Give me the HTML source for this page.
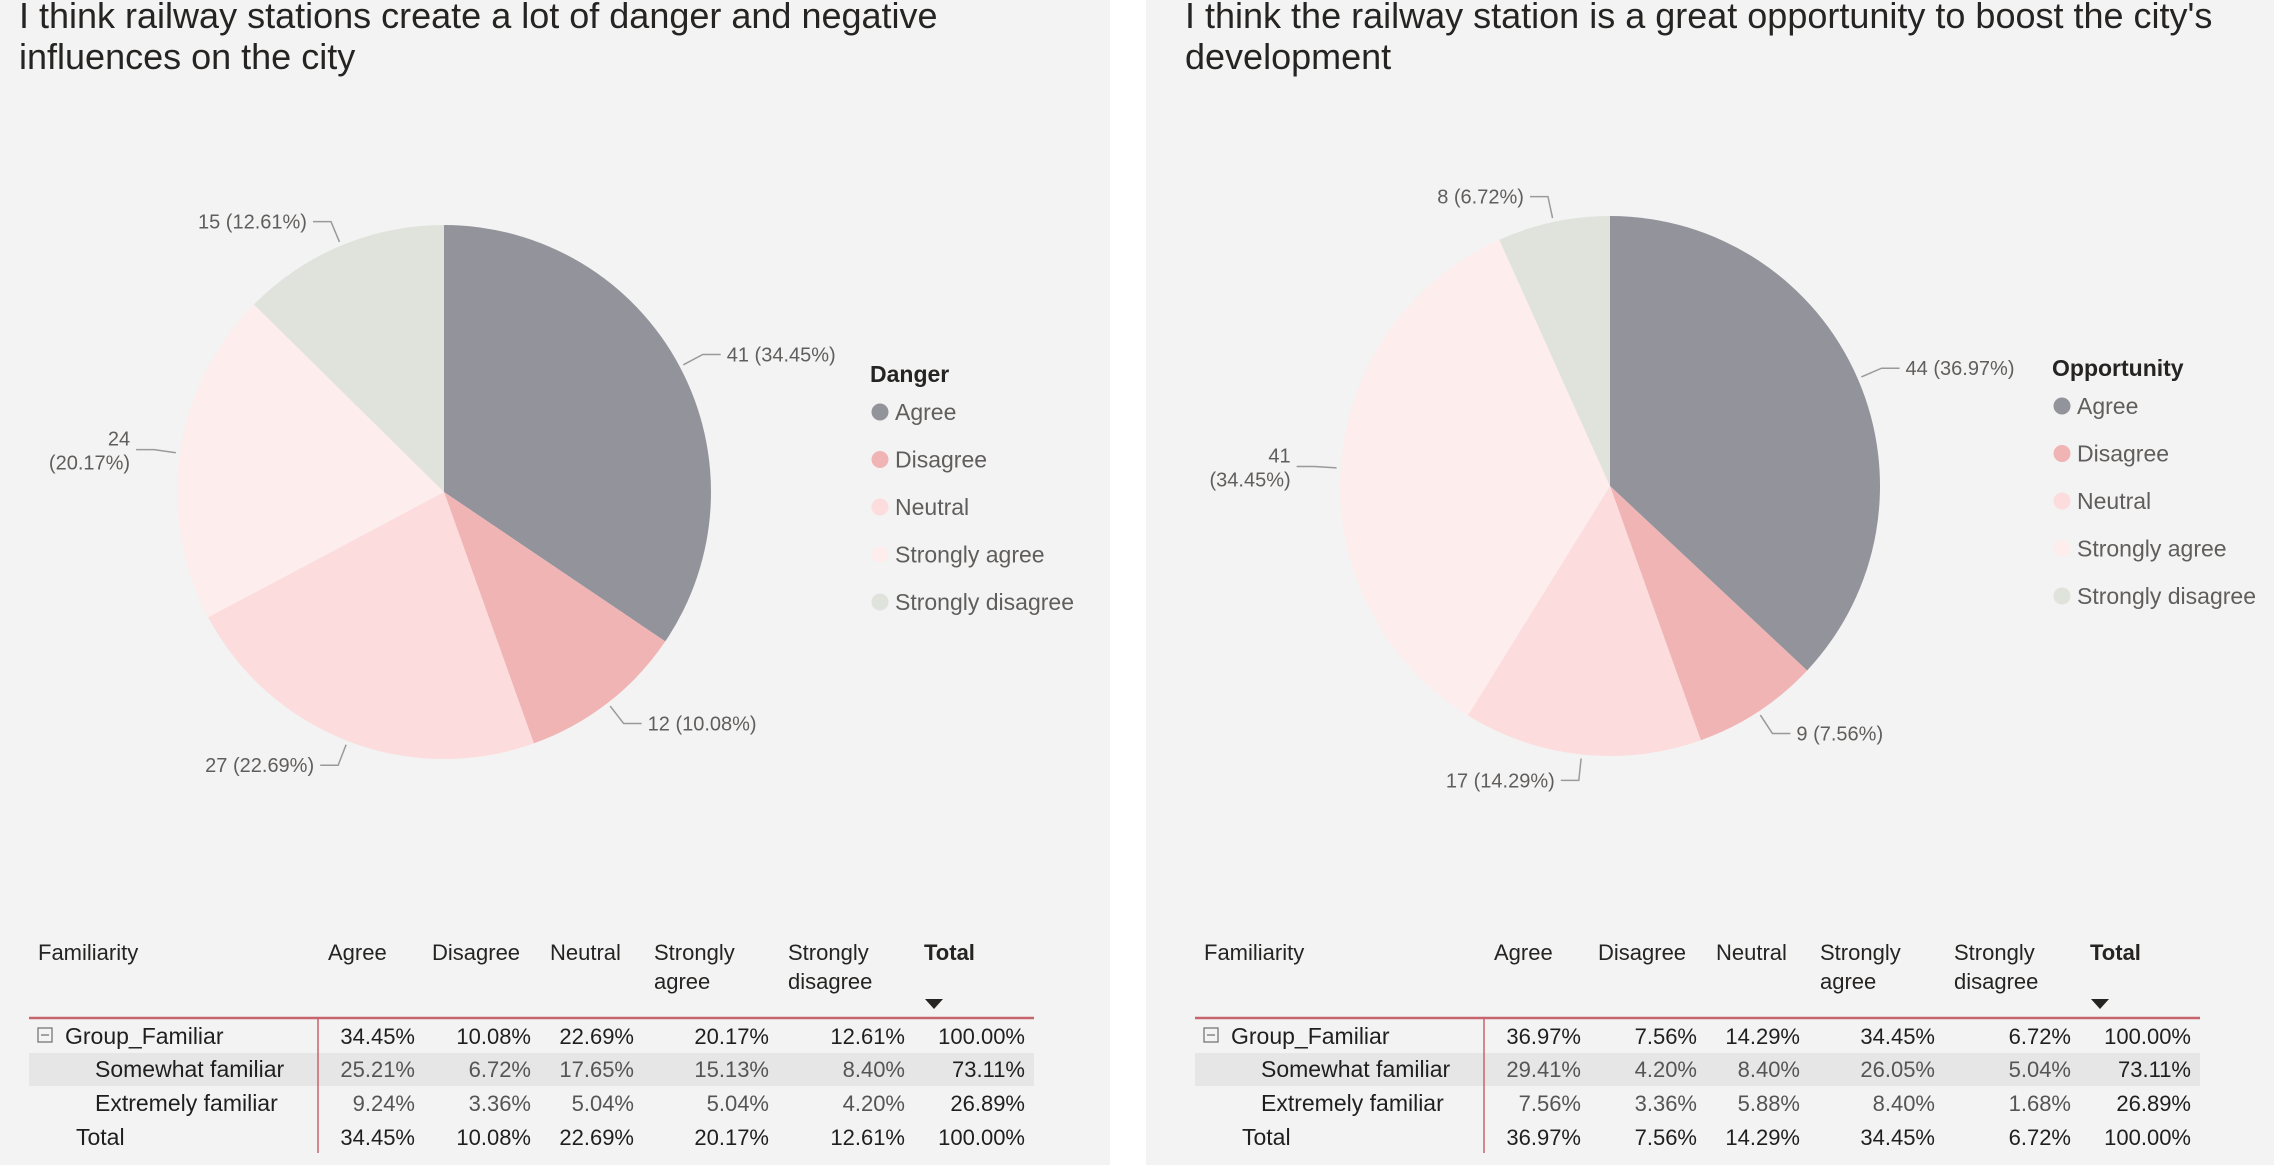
<!DOCTYPE html>
<html><head><meta charset="utf-8">
<style>
html,body{margin:0;padding:0;background:#fff;}
svg{display:block;font-family:"Liberation Sans",sans-serif;}
</style></head>
<body>
<svg id="root" width="2274" height="1170" viewBox="0 0 2274 1170">
<rect x="0" y="0" width="1110" height="1165" fill="#f3f3f3"/>
<rect x="1146" y="0" width="1128" height="1165" fill="#f3f3f3"/>
<g id="g0"></g>
<g id="g1"></g>
</svg>
<script>
const categories = ["Agree","Disagree","Neutral","Strongly agree","Strongly disagree"];
const dangerCounts = [41,12,27,24,15];
const dangerPcts = ["34.45%","10.08%","22.69%","20.17%","12.61%"];
const opportunityCounts = [44,9,17,41,8];
const opportunityPcts = ["36.97%","7.56%","14.29%","34.45%","6.72%"];
const colors = ["#93939b","#f0b4b4","#fcdcdc","#fdeded","#e0e2dc"];
const tableHeaders = [["Agree"],["Disagree"],["Neutral"],["Strongly","agree"],["Strongly","disagree"],["Total"]];
const rowLabels = ["Group_Familiar","Somewhat familiar","Extremely familiar","Total"];
const dangerTable = [
 ["34.45%","10.08%","22.69%","20.17%","12.61%","100.00%"],
 ["25.21%","6.72%","17.65%","15.13%","8.40%","73.11%"],
 ["9.24%","3.36%","5.04%","5.04%","4.20%","26.89%"],
 ["34.45%","10.08%","22.69%","20.17%","12.61%","100.00%"]];
const opportunityTable = [
 ["36.97%","7.56%","14.29%","34.45%","6.72%","100.00%"],
 ["29.41%","4.20%","8.40%","26.05%","5.04%","73.11%"],
 ["7.56%","3.36%","5.88%","8.40%","1.68%","26.89%"],
 ["36.97%","7.56%","14.29%","34.45%","6.72%","100.00%"]];

const NS="http://www.w3.org/2000/svg";
function mk(tag,attrs,parent){const e=document.createElementNS(NS,tag);for(const k in attrs)e.setAttribute(k,attrs[k]);parent.appendChild(e);return e;}
function txt(parent,x,y,s,size,fill,anchor,weight){const t=mk('text',{x:x,y:y,'font-size':size,fill:fill,'text-anchor':anchor||'start','font-weight':weight||'normal'},parent);t.textContent=s;return t;}

const visuals=[
 {g:'g0',ox:0,title:["I think railway stations create a lot of danger and negative","influences on the city"],legend:"Danger",counts:dangerCounts,pcts:dangerPcts,table:dangerTable,cx:444,cy:492,r:267,lx:870,ly:374},
 {g:'g1',ox:1166,title:["I think the railway station is a great opportunity to boost the city's","development"],legend:"Opportunity",counts:opportunityCounts,pcts:opportunityPcts,table:opportunityTable,cx:1610,cy:486,r:270,lx:2052,ly:368}
];

visuals.forEach(v=>{
 const g=document.getElementById(v.g);
 v.title.forEach((line,i)=>{const t=txt(g,v.ox+19,28+i*41,line,36,'#252423');
  
  });
 const total=v.counts.reduce((a,b)=>a+b,0);
 let a0=0;
 const pg=mk('g',{},g);
 
 
 v.counts.forEach((c,i)=>{
  const a1=a0+c/total*2*Math.PI;
  const p=(a)=>[v.cx+v.r*Math.sin(a),v.cy-v.r*Math.cos(a)];
  const s=p(a0),e=p(a1);const large=(a1-a0)>Math.PI?1:0;
  const path=mk('path',{d:`M${v.cx},${v.cy}L${s[0]},${s[1]}A${v.r},${v.r} 0 ${large} 1 ${e[0]},${e[1]}Z`,fill:colors[i]},pg);
  
  
  const m=(a0+a1)/2, sx=Math.sin(m), cy=-Math.cos(m);
  const p1=[v.cx+(v.r+4)*sx,v.cy+(v.r+4)*cy];
  const p2=[v.cx+(v.r+26)*sx,v.cy+(v.r+26)*cy];
  const dir=sx>=0?1:-1;
  const p3=[p2[0]+dir*18,p2[1]];
  const ln=mk('polyline',{points:`${p1} ${p2} ${p3}`,fill:'none',stroke:'#9a9a9a','stroke-width':1.5},pg);
  
  
  const wrap=(dir<0&&Math.abs(cy)<0.4);
  if(wrap){
   const l1=txt(pg,p3[0]-6,p3[1]-4,String(c),20,'#605e5c','end');
   
   
   const l2=txt(pg,p3[0]-6,p3[1]+20,"("+v.pcts[i]+")",20,'#605e5c','end');
   
   
  } else {
   const lt=txt(pg,p3[0]+dir*6,p3[1]+7,c+" ("+v.pcts[i]+")",20,'#605e5c',dir>0?'start':'end');
   
   
  }
  a0=a1;
 });
 const lg=mk('g',{},g);
 
 
 const lt=txt(lg,v.lx,v.ly+8,v.legend,23,'#252423','start','bold');
 
 
 categories.forEach((c,i)=>{
  const y=v.ly+38+i*47.5;
  const it=mk('g',{},lg);
  
  
  mk('circle',{cx:v.lx+10,cy:y,r:8.5,fill:colors[i]},it);
  txt(it,v.lx+25,y+8,c,23,'#605e5c');
 });
 const tg=mk('g',{},g);
 
 
 const o=v.ox;
 const colRight=[415,531,634,769,905,1025];
 const colLeft=[328,432,550,654,788,924];
 const h=txt(tg,o+38,960,"Familiarity",22,'#252423');
 
 
 tableHeaders.forEach((hd,j)=>{hd.forEach((s,k)=>{const t=txt(tg,o+colLeft[j],960+k*29,s,22,'#252423','start',j==5?'bold':'normal');
  
  });});
 const tri=mk('path',{d:`M${o+925},${999}L${o+943},${999}L${o+934},${1009}Z`,fill:'#252423'},tg);
 
 
 const band=mk('rect',{x:o+29,y:1053,width:1005,height:33,fill:'#e6e6e6'},tg);
 
 
 mk('line',{x1:o+29,y1:1018,x2:o+1034,y2:1018,stroke:'#c8646c','stroke-width':2.5},tg);
 mk('line',{x1:o+318,y1:1018,x2:o+318,y2:1153,stroke:'#c8646c','stroke-width':1.5},tg);
 const rowY=[1044,1077,1111,1145];
 const ex=mk('rect',{x:o+38,y:1028,width:14,height:14,fill:'none',stroke:'#777','stroke-width':1.3},tg);
 
 
 mk('line',{x1:o+41,y1:1035,x2:o+49,y2:1035,stroke:'#777','stroke-width':1.3},tg);
 rowLabels.forEach((rl,i)=>{
  const dark=(i==0||i==3);
  const lx=i==0?o+65:(i==3?o+76:o+95);
  const t=txt(tg,lx,rowY[i],rl,23,'#1f1f1f','start');
  
  
  v.table[i].forEach((val,j)=>{
   const c=txt(tg,o+colRight[j],rowY[i],val,22,(dark||j==5)?'#1f1f1f':'#555','end');
   
   
  });
 });
});
</script>
</body></html>
